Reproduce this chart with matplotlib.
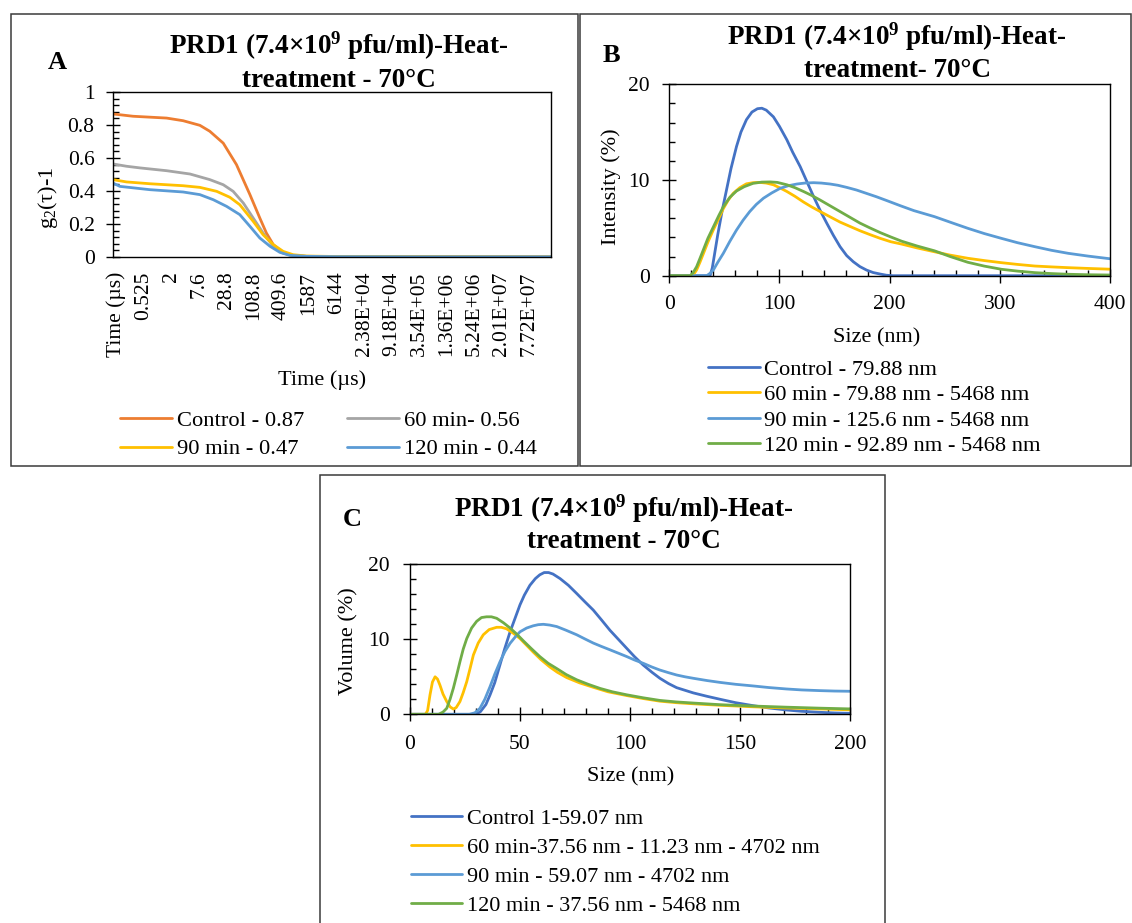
import matplotlib
matplotlib.use("Agg")
import matplotlib.pyplot as plt
from matplotlib.patches import Rectangle
from matplotlib.ticker import MultipleLocator, FuncFormatter

plt.rcParams["font.family"] = ["Liberation Serif", "DejaVu Serif"]
plt.rcParams["mathtext.fontset"] = "custom"
plt.rcParams["mathtext.rm"] = "Liberation Serif"
plt.rcParams["mathtext.bf"] = "Liberation Serif:bold"
plt.rcParams["mathtext.default"] = "regular"
plt.rcParams["lines.solid_joinstyle"] = "round"
plt.rcParams["lines.solid_capstyle"] = "round"

W, H = 1132, 923

# ---- colours (Office palette)
C_ORANGE = "#ED7D31"
C_GRAY = "#A5A5A5"
C_YELLOW = "#FFC000"
C_LBLUE = "#5B9BD5"
C_DBLUE = "#4472C4"
C_GREEN = "#70AD47"

# ---- panel A: correlation functions, x = lag-time category index
a_ticklabels = ["Time (µs)", "0.525", "2", "7.6", "28.8", "108.8", "409.6", "1587",
                "6144", "2.38E+04", "9.18E+04", "3.54E+05", "1.36E+06", "5.24E+06",
                "2.01E+07", "7.72E+07"]
a_ctrl_x = [-0.13, 0.6, 1.82, 2.42, 3.03, 3.39, 3.88, 4.36, 4.85, 5.21, 5.45, 5.7,
            6.06, 6.42, 6.9, 8.0, 10.0, 12.0, 14.0, 15.8]
a_ctrl_y = [0.867, 0.853, 0.842, 0.826, 0.798, 0.762, 0.69, 0.56, 0.378, 0.236, 0.145,
            0.075, 0.024, 0.008, 0.004, 0.003, 0.002, 0.002, 0.001, 0.001]
a_60_x = [-0.13, 0.36, 0.85, 1.82, 2.67, 3.39, 3.88, 4.24, 4.61, 4.97, 5.33, 5.7,
          6.06, 6.42, 7.0, 9.0, 12.0, 15.8]
a_60_y = [0.564, 0.55, 0.54, 0.523, 0.503, 0.469, 0.438, 0.398, 0.327, 0.236, 0.145,
          0.065, 0.024, 0.008, 0.003, 0.002, 0.001, 0.001]
a_90_x = [-0.13, 0.36, 1.21, 2.42, 3.03, 3.64, 4.12, 4.48, 4.97, 5.33, 5.7, 6.06,
          6.42, 6.9, 8.0, 11.0, 15.8]
a_90_y = [0.469, 0.455, 0.444, 0.432, 0.422, 0.398, 0.362, 0.317, 0.216, 0.135, 0.075,
          0.034, 0.014, 0.006, 0.003, 0.002, 0.001]
a_120_x = [-0.13, 0.12, 1.21, 2.42, 3.03, 3.52, 4.0, 4.48, 4.85, 5.21, 5.58, 5.94,
           6.3, 6.9, 8.0, 11.0, 15.8]
a_120_y = [0.448, 0.428, 0.408, 0.394, 0.378, 0.347, 0.307, 0.257, 0.186, 0.115, 0.065,
           0.028, 0.01, 0.004, 0.002, 0.001, 0.001]

# ---- panel B: intensity distribution (size nm, %)
b_ctrl_x = [0, 37, 39, 41, 44, 48, 52, 56, 61, 65, 70, 75, 80, 84, 88, 94.5, 100, 106.7,
            112, 118.8, 125, 131, 137, 143, 149, 155, 161, 167, 173, 179, 185, 191.5,
            197, 203, 400]
b_ctrl_y = [0, 0, 0.8, 2.2, 4.3, 6.8, 9.0, 11.2, 13.5, 15.0, 16.3, 17.1, 17.45, 17.5,
            17.3, 16.6, 15.6, 14.2, 12.9, 11.4, 9.8, 8.26, 6.8, 5.47, 4.2, 3.03, 2.1,
            1.46, 0.95, 0.59, 0.33, 0.17, 0.05, 0, 0]
b_60_x = [0, 20, 22.5, 24.8, 27.8, 30.9, 35, 40, 45, 49, 53.5, 58, 64, 70, 76, 82, 88,
          94.5, 100, 106.7, 114, 121.8, 129, 137, 146, 155, 164, 173, 182, 191.5, 201,
          211, 225, 240.7, 255, 271, 286, 301.5, 316, 331.8, 347, 362, 380, 400]
b_60_y = [0, 0, 0.2, 0.6, 1.4, 2.3, 3.5, 4.8, 6.0, 7.0, 7.9, 8.6, 9.2, 9.6, 9.72, 9.75,
          9.68, 9.5, 9.2, 8.8, 8.3, 7.7, 7.2, 6.7, 6.15, 5.6, 5.15, 4.7, 4.3, 3.9, 3.55,
          3.3, 2.9, 2.5, 2.15, 1.82, 1.58, 1.36, 1.18, 1.01, 0.92, 0.84, 0.76, 0.68]
b_90_x = [0, 34, 37, 40, 44, 49, 55, 61, 67, 73, 79, 85.5, 93, 100.6, 108, 115.8, 123,
          131, 138, 146, 153, 161, 170, 179, 188, 197.6, 210, 222, 240.7, 256, 271, 286,
          301.5, 316, 331.8, 347, 362, 380, 400]
b_90_y = [0, 0, 0.25, 0.6, 1.4, 2.33, 3.6, 4.77, 5.8, 6.7, 7.45, 8.1, 8.65, 9.13, 9.4,
          9.58, 9.68, 9.72, 9.68, 9.58, 9.45, 9.23, 8.95, 8.6, 8.25, 7.84, 7.3, 6.8,
          6.17, 5.55, 4.95, 4.4, 3.9, 3.45, 3.03, 2.65, 2.34, 2.05, 1.77]
b_120_x = [0, 19, 21.5, 24.8, 27.8, 30.9, 35, 40, 45, 49, 55, 61, 68, 76, 84, 91.5, 98,
           106.7, 114, 121.8, 129, 137, 146, 155, 164, 173, 182, 191.5, 201, 211, 225,
           240.7, 255, 271, 286, 301.5, 316, 331.8, 347, 362, 380, 400]
b_120_y = [0, 0, 0.3, 0.94, 1.8, 2.7, 3.9, 5.1, 6.3, 7.2, 8.2, 8.85, 9.3, 9.65, 9.78,
           9.8, 9.75, 9.5, 9.2, 8.8, 8.4, 7.9, 7.3, 6.7, 6.1, 5.5, 5.0, 4.5, 4.05, 3.6,
           3.1, 2.6, 2.0, 1.4, 1.0, 0.67, 0.48, 0.32, 0.22, 0.15, 0.1, 0.07]

# ---- panel C: volume distribution (size nm, %)
c_ctrl_x = [0, 30, 32, 34.5, 36.4, 38.5, 40.9, 43, 45.5, 48, 50, 52, 54.5, 57, 59, 61,
            63, 65, 68.2, 72, 75.8, 79.5, 83.3, 87, 90.9, 94.7, 98.5, 102, 106, 110,
            113.6, 117.5, 121.2, 128.8, 135, 141, 148, 156, 163, 171, 178, 186, 193, 200]
c_ctrl_y = [0, 0, 0.35, 1.3, 2.6, 4.2, 6.6, 8.7, 11.0, 13.0, 14.6, 15.9, 17.2, 18.1,
            18.6, 18.9, 18.9, 18.7, 18.1, 17.2, 16.1, 15.0, 13.9, 12.6, 11.2, 10.0, 8.8,
            7.7, 6.57, 5.6, 4.8, 4.1, 3.55, 2.85, 2.4, 2.0, 1.55, 1.15, 0.85, 0.58, 0.4,
            0.27, 0.18, 0.13]
c_60_x = [0, 7, 8, 9.1, 10.2, 11.4, 12.5, 13.6, 15, 16.7, 18.2, 19.7, 21, 22.7, 24.2,
          25.8, 27.3, 28.8, 31, 33.3, 36, 39.4, 41.5, 43.9, 47, 50, 53, 56, 59.5, 63.6,
          67, 71.2, 77, 83.3, 90, 98.5, 106, 113.6, 121, 128.8, 141, 156, 171, 186, 200]
c_60_y = [0, 0, 0.5, 2.6, 4.3, 5.0, 4.7, 3.9, 2.7, 1.7, 1.0, 0.7, 0.9, 1.7, 2.9, 4.36,
          6.1, 7.9, 9.5, 10.6, 11.3, 11.6, 11.6, 11.4, 10.8, 10.1, 9.2, 8.3, 7.3, 6.3,
          5.6, 4.9, 4.2, 3.6, 3.0, 2.5, 2.1, 1.75, 1.55, 1.4, 1.2, 1.0, 0.84, 0.72, 0.6]
c_90_x = [0, 27, 29.5, 31.8, 34, 36.4, 38.6, 40.9, 43.2, 45.5, 47.8, 50, 53, 56, 58.3,
          60.6, 63.5, 66.7, 71, 75.8, 79.5, 83.3, 87, 90.9, 94.7, 98.5, 102, 106, 110,
          113.6, 117.5, 121.2, 125, 128.8, 135, 141, 148, 156, 163, 171, 178, 186, 193,
          200]
c_90_y = [0, 0, 0.2, 0.8, 2.0, 3.7, 5.4, 7.0, 8.4, 9.47, 10.3, 11.0, 11.5, 11.8, 11.95,
          12.0, 11.9, 11.7, 11.2, 10.6, 10.05, 9.5, 9.05, 8.6, 8.15, 7.7, 7.25, 6.8, 6.3,
          5.9, 5.55, 5.24, 5.0, 4.8, 4.5, 4.25, 4.0, 3.78, 3.57, 3.38, 3.25, 3.16, 3.1,
          3.07]
c_120_x = [0, 13, 15, 16.7, 18.2, 19.7, 21.2, 22.7, 24.2, 25.8, 28, 30.3, 32.5, 34.8,
           37, 39.4, 42.5, 45.5, 48.5, 51.5, 55, 59, 62.8, 66.7, 71, 75.8, 81, 86.4, 92,
           98.5, 106, 113.6, 121, 128.8, 141, 156, 171, 186, 200]
c_120_y = [0, 0, 0.3, 0.8, 2.0, 3.47, 5.2, 7.0, 8.7, 10.1, 11.5, 12.4, 12.9, 13.0, 13.0,
           12.8, 12.2, 11.5, 10.7, 9.8, 8.8, 7.7, 6.8, 6.1, 5.3, 4.6, 4.0, 3.45, 3.0, 2.6,
           2.2, 1.85, 1.65, 1.5, 1.28, 1.1, 0.95, 0.82, 0.72]

a_labels = ["Control - 0.87", "60 min- 0.56", "90 min - 0.47", "120 min - 0.44"]
b_labels = ["Control - 79.88 nm", "60 min - 79.88 nm - 5468 nm",
            "90 min - 125.6 nm - 5468 nm", "120 min - 92.89 nm - 5468 nm"]
c_labels = ["Control 1-59.07 nm", "60 min-37.56 nm - 11.23 nm - 4702 nm",
            "90 min - 59.07 nm - 4702 nm", "120 min - 37.56 nm - 5468 nm"]

TITLE1 = "PRD1 (7.4×10$^{9}$ pfu/ml)-Heat-"
LW = 2.0
TICK_FS = 15.5
LABEL_FS = 16
LEG_FS = 16.2


def fx(px):
    return px / W


def fy(py):
    return 1 - py / H


def rect(l, t, r, b):
    return [l / W, 1 - b / H, (r - l) / W, (b - t) / H]


def style_axes(ax, xpad=9, ypad=9):
    for s in ax.spines.values():
        s.set_color("black")
        s.set_linewidth(1.0)
    ax.tick_params(which="major", direction="inout", length=9.5, width=1.0,
                   labelsize=TICK_FS, color="black")
    ax.tick_params(which="minor", direction="in", length=4.5, width=1.0, color="black")
    ax.tick_params(axis="x", which="major", pad=xpad)
    ax.tick_params(axis="y", which="major", pad=ypad)
    ax.tick_params(top=False, right=False, which="both")
    ax.yaxis.set_major_formatter(FuncFormatter(lambda v, p: f"{v:g}"))


def set_labels(ax, xlabel, xpos, ylabel, ypos):
    ax.set_xlabel(xlabel, fontsize=LABEL_FS)
    ax.xaxis.set_label_coords(fx(xpos[0]), fy(xpos[1]), transform=fig.transFigure)
    ax.xaxis.label.set_va("center")
    ax.set_ylabel(ylabel, fontsize=LABEL_FS)
    ax.yaxis.set_label_coords(fx(ypos[0]), fy(ypos[1]), transform=fig.transFigure)
    ax.yaxis.label.set_va("center")


def panel_title(letter, lpos, cx, y1, y2, line2):
    fig.text(fx(lpos[0]), fy(lpos[1]), letter, fontsize=19, fontweight="bold",
             ha="center", va="baseline")
    fig.text(fx(cx), fy(y1), TITLE1, fontsize=19.5, fontweight="bold",
             ha="center", va="baseline")
    fig.text(fx(cx), fy(y2), line2, fontsize=19.5, fontweight="bold",
             ha="center", va="baseline")


fig = plt.figure(figsize=(W / 100, H / 100), dpi=100)

# panel frames
for (l, t, r, b) in [(10.5, 13.5, 578, 465.5), (579.5, 13.5, 1131, 465.5), (320, 475, 885, 930)]:
    fig.add_artist(Rectangle((fx(l), fy(b)), (r - l) / W, (b - t) / H, fill=False,
                             edgecolor="#3a3a3a", linewidth=1.1, transform=fig.transFigure))

# ---------------- A
axA = fig.add_axes(rect(113, 92, 551, 257))
la = axA.plot(a_ctrl_x, a_ctrl_y, color=C_ORANGE, lw=LW)[0]
lb = axA.plot(a_60_x, a_60_y, color=C_GRAY, lw=LW)[0]
lc = axA.plot(a_90_x, a_90_y, color=C_YELLOW, lw=LW)[0]
ld = axA.plot(a_120_x, a_120_y, color=C_LBLUE, lw=LW)[0]
axA.set_xlim(-0.13, 15.8)
axA.set_ylim(0, 1)
style_axes(axA, xpad=10.5, ypad=8.5)
axA.set_xticks(range(len(a_ticklabels)))
axA.set_xticklabels(a_ticklabels, rotation=90)
axA.tick_params(axis="x", which="both", length=0)
axA.yaxis.set_major_locator(MultipleLocator(0.2))
axA.yaxis.set_minor_locator(MultipleLocator(0.04))
set_labels(axA, "Time (µs)", (322, 380), "g$_2$(τ)-1", (48, 198))
axA.legend([la, lc, lb, ld], [a_labels[0], a_labels[2], a_labels[1], a_labels[3]],
           ncol=2, loc="center left", bbox_to_anchor=(fx(120), fy(435)),
           bbox_transform=fig.transFigure, frameon=False, borderpad=0, borderaxespad=0,
           fontsize=LEG_FS, handlelength=2.31, handletextpad=0.22, labelspacing=0.33,
           columnspacing=1.89)
panel_title("A", (57, 69), 338.5, 54, 87, "treatment - 70°C")

# ---------------- B
axB = fig.add_axes(rect(669.3, 84.3, 1110, 275.7))
axB.plot(b_ctrl_x, b_ctrl_y, color=C_DBLUE, lw=LW, label=b_labels[0])
axB.plot(b_60_x, b_60_y, color=C_YELLOW, lw=LW, label=b_labels[1])
axB.plot(b_90_x, b_90_y, color=C_LBLUE, lw=LW, label=b_labels[2])
axB.plot(b_120_x, b_120_y, color=C_GREEN, lw=LW, label=b_labels[3])
axB.set_xlim(0, 400)
axB.set_ylim(0, 20)
style_axes(axB, xpad=9, ypad=9.5)
axB.xaxis.set_major_locator(MultipleLocator(100))
axB.xaxis.set_minor_locator(MultipleLocator(20))
axB.yaxis.set_major_locator(MultipleLocator(10))
axB.yaxis.set_minor_locator(MultipleLocator(2))
set_labels(axB, "Size (nm)", (877, 338), "Intensity (%)", (611.6, 187))
axB.legend(loc="center left", bbox_to_anchor=(fx(708), fy(407.5)),
           bbox_transform=fig.transFigure, frameon=False, borderpad=0, borderaxespad=0,
           fontsize=LEG_FS, handlelength=2.31, handletextpad=0.2, labelspacing=0.2)
panel_title("B", (611.6, 61.7), 897, 45, 76.7, "treatment- 70°C")

# ---------------- C
axC = fig.add_axes(rect(410, 564.3, 850, 714.3))
axC.plot(c_ctrl_x, c_ctrl_y, color=C_DBLUE, lw=LW, label=c_labels[0])
axC.plot(c_60_x, c_60_y, color=C_YELLOW, lw=LW, label=c_labels[1])
axC.plot(c_90_x, c_90_y, color=C_LBLUE, lw=LW, label=c_labels[2])
axC.plot(c_120_x, c_120_y, color=C_GREEN, lw=LW, label=c_labels[3])
axC.set_xlim(0, 200)
axC.set_ylim(0, 20)
style_axes(axC, xpad=10, ypad=10)
axC.xaxis.set_major_locator(MultipleLocator(50))
axC.xaxis.set_minor_locator(MultipleLocator(10))
axC.yaxis.set_major_locator(MultipleLocator(10))
axC.yaxis.set_minor_locator(MultipleLocator(2))
set_labels(axC, "Size (nm)", (631, 777), "Volume (%)", (349, 641))
axC.legend(loc="center left", bbox_to_anchor=(fx(410.7), fy(862)),
           bbox_transform=fig.transFigure, frameon=False, borderpad=0, borderaxespad=0,
           fontsize=16, handlelength=2.3, handletextpad=0.25, labelspacing=0.38)
panel_title("C", (352.5, 526), 624, 516.7, 547.7, "treatment - 70°C")

fig.savefig("out.png", dpi=100)
